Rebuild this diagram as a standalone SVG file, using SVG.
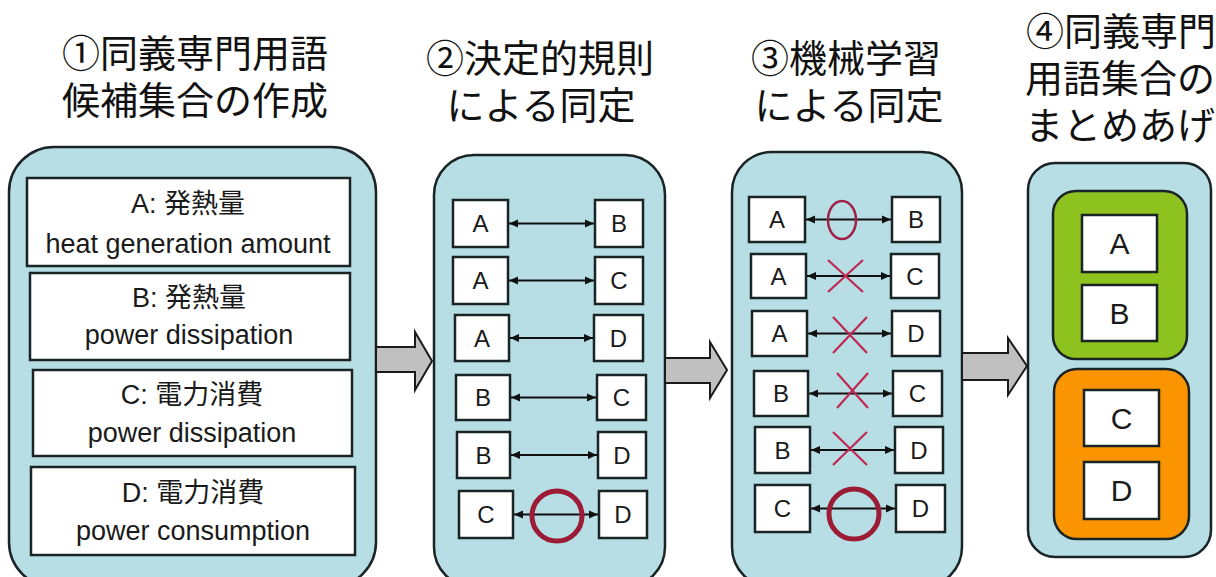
<svg xmlns="http://www.w3.org/2000/svg" width="1216" height="577" viewBox="0 0 1216 577">
<defs>
<marker id="ah" viewBox="0 0 10 10" refX="10" refY="5" markerWidth="9" markerHeight="9" orient="auto-start-reverse" markerUnits="userSpaceOnUse"><path d="M0,0.5 L10,5 L0,9.5 z" fill="#111"/></marker>
<style>
.title{font-family:"Noto Sans CJK JP","Noto Sans CJK SC",sans-serif;font-size:38px;fill:#111;text-anchor:middle}
.panel{fill:#b7dde5;stroke:#1b2424;stroke-width:2.5}
.box{fill:#fff;stroke:#1b2424;stroke-width:2.5}
.bt{font-family:"Liberation Sans","Noto Sans CJK JP",sans-serif;font-size:27px;fill:#1a1a1a;text-anchor:middle}
.lt{font-family:"Liberation Sans",Arial,sans-serif;font-size:24px;fill:#1a1a1a;text-anchor:middle}
.lt4{font-family:"Liberation Sans",Arial,sans-serif;font-size:30px;fill:#1a1a1a;text-anchor:middle}
.link{stroke:#111;stroke-width:2;fill:none;marker-start:url(#ah);marker-end:url(#ah)}
.big{fill:#c0c0c0;stroke:#1b1b1b;stroke-width:2;stroke-linejoin:miter}
.ok{fill:none;stroke:#9c1c35;stroke-width:5}
.ok2{fill:none;stroke:#a02048;stroke-width:2.5}
.ng{stroke:#c02852;stroke-width:2.2;fill:none}
</style>
</defs>
<rect width="1216" height="577" fill="#fff"/>

<g id="titles">
<text class="title" x="195" y="67">①同義専門用語</text>
<text class="title" x="195" y="114">候補集合の作成</text>
<text class="title" x="540" y="72">②決定的規則</text>
<text class="title" x="541" y="119">による同定</text>
<text class="title" x="846" y="72">③機械学習</text>
<text class="title" x="849" y="119">による同定</text>
<text class="title" x="1121" y="45">④同義専門</text>
<text class="title" x="1120" y="92">用語集合の</text>
<text class="title" x="1120" y="139">まとめあげ</text>
</g>

<g id="panel1">
<rect class="panel" x="9" y="147" width="367" height="440" rx="45"/>
<g id="p1-A"><rect class="box" x="27" y="178" width="323" height="88"/>
<text class="bt" x="188" y="213">A: 発熱量</text><text class="bt" x="188" y="253">heat generation amount</text></g>
<g id="p1-B"><rect class="box" x="30" y="273" width="320" height="87"/>
<text class="bt" x="189" y="307">B: 発熱量</text><text class="bt" x="189" y="344">power dissipation</text></g>
<g id="p1-C"><rect class="box" x="33" y="370" width="319" height="86"/>
<text class="bt" x="192" y="404">C: 電力消費</text><text class="bt" x="192" y="442">power dissipation</text></g>
<g id="p1-D"><rect class="box" x="31" y="467" width="324" height="88"/>
<text class="bt" x="193" y="502">D: 電力消費</text><text class="bt" x="193" y="540">power consumption</text></g>
</g>

<g id="panel2">
<rect class="panel" x="434" y="155" width="231" height="432" rx="40"/>
<g id="p2-r1"><rect class="box" x="453" y="200" width="55" height="47"/><text class="lt" x="480.5" y="232">A</text><rect class="box" x="595" y="200" width="48" height="47"/><text class="lt" x="619" y="232">B</text></g>
<g id="p2-r2"><rect class="box" x="453" y="257" width="55" height="47"/><text class="lt" x="480.5" y="289">A</text><rect class="box" x="595" y="257" width="48" height="47"/><text class="lt" x="619" y="289">C</text></g>
<g id="p2-r3"><rect class="box" x="455" y="315" width="54" height="46"/><text class="lt" x="482" y="347">A</text><rect class="box" x="594" y="315" width="49" height="46"/><text class="lt" x="618.5" y="347">D</text></g>
<g id="p2-r4"><rect class="box" x="456" y="375" width="54" height="45"/><text class="lt" x="483" y="406">B</text><rect class="box" x="597" y="375" width="49" height="45"/><text class="lt" x="621.5" y="406">C</text></g>
<g id="p2-r5"><rect class="box" x="457" y="432" width="53" height="46"/><text class="lt" x="483.5" y="464">B</text><rect class="box" x="598" y="432" width="48" height="46"/><text class="lt" x="622" y="464">D</text></g>
<g id="p2-r6"><rect class="box" x="459" y="491" width="54" height="47"/><text class="lt" x="486" y="523">C</text><rect class="box" x="599" y="491" width="48" height="47"/><text class="lt" x="623" y="523">D</text></g>
</g>

<g id="panel3">
<rect class="panel" x="732" y="152" width="230" height="435" rx="40"/>
<g id="p3-r1"><rect class="box" x="749" y="197" width="56" height="45"/><text class="lt" x="777" y="228">A</text><rect class="box" x="892" y="197" width="48" height="45"/><text class="lt" x="916" y="228">B</text></g>
<g id="p3-r2"><rect class="box" x="751" y="254" width="55" height="44"/><text class="lt" x="778.5" y="285">A</text><rect class="box" x="891" y="254" width="48" height="44"/><text class="lt" x="915" y="285">C</text></g>
<g id="p3-r3"><rect class="box" x="752" y="311" width="55" height="45"/><text class="lt" x="779.5" y="342">A</text><rect class="box" x="892" y="311" width="48" height="45"/><text class="lt" x="916" y="342">D</text></g>
<g id="p3-r4"><rect class="box" x="754" y="371" width="54" height="45"/><text class="lt" x="781" y="402">B</text><rect class="box" x="893" y="371" width="49" height="45"/><text class="lt" x="917.5" y="402">C</text></g>
<g id="p3-r5"><rect class="box" x="755" y="427" width="55" height="46"/><text class="lt" x="782.5" y="459">B</text><rect class="box" x="895" y="427" width="48" height="46"/><text class="lt" x="919" y="459">D</text></g>
<g id="p3-r6"><rect class="box" x="755" y="485" width="55" height="47"/><text class="lt" x="782.5" y="517">C</text><rect class="box" x="896" y="485" width="49" height="47"/><text class="lt" x="920.5" y="517">D</text></g>
</g>

<g id="panel4">
<rect class="panel" x="1028" y="163" width="183" height="394" rx="27"/>
<g id="group-AB"><rect x="1053" y="191" width="134" height="168" rx="23" fill="#8dc21f" stroke="#1b2424" stroke-width="2.5"/>
<rect class="box" x="1082" y="215" width="75" height="57"/><text class="lt4" x="1119.5" y="254">A</text>
<rect class="box" x="1082" y="285" width="75" height="56"/><text class="lt4" x="1119.5" y="324">B</text></g>
<g id="group-CD"><rect x="1054" y="369" width="135" height="170" rx="23" fill="#fa9400" stroke="#1b2424" stroke-width="2.5"/>
<rect class="box" x="1084" y="390" width="75" height="56"/><text class="lt4" x="1121.5" y="429">C</text>
<rect class="box" x="1084" y="462" width="75" height="57"/><text class="lt4" x="1121.5" y="501">D</text></g>
</g>

<g id="connectors">
<polygon class="big" points="376,347 415,347 415,332 432,361 415,390 415,372 376,372"/>
<polygon class="big" points="665,358 710,358 710,342 727,370 710,398 710,383 665,383"/>
<polygon class="big" points="962,353 1008,353 1008,338 1027,366 1008,395 1008,380 962,380"/>
<line class="link" x1="509" y1="223.5" x2="594" y2="223.5"/>
<line class="link" x1="509" y1="280.5" x2="594" y2="280.5"/>
<line class="link" x1="510" y1="338" x2="593" y2="338"/>
<line class="link" x1="511" y1="397.5" x2="596" y2="397.5"/>
<line class="link" x1="511" y1="455" x2="597" y2="455"/>
<line class="link" x1="514" y1="514.5" x2="598" y2="514.5"/>
<circle class="ok" cx="557" cy="516" r="25"/>
<line class="link" x1="806" y1="219.5" x2="891" y2="219.5"/>
<line class="link" x1="807" y1="276" x2="890" y2="276"/>
<line class="link" x1="808" y1="333.5" x2="891" y2="333.5"/>
<line class="link" x1="809" y1="393.5" x2="892" y2="393.5"/>
<line class="link" x1="811" y1="450" x2="894" y2="450"/>
<line class="link" x1="811" y1="508.5" x2="895" y2="508.5"/>
<ellipse class="ok2" cx="842" cy="220" rx="14" ry="19"/>
<path class="ng" d="M828,260 L863,292 M863,260 L828,292"/>
<path class="ng" d="M833,317 L867,353 M867,317 L833,353"/>
<path class="ng" d="M837,373 L868,408 M868,373 L837,408"/>
<path class="ng" d="M833,432 L867,465 M867,432 L833,465"/>
<circle class="ok" cx="854" cy="514" r="25"/>
</g>
</svg>
